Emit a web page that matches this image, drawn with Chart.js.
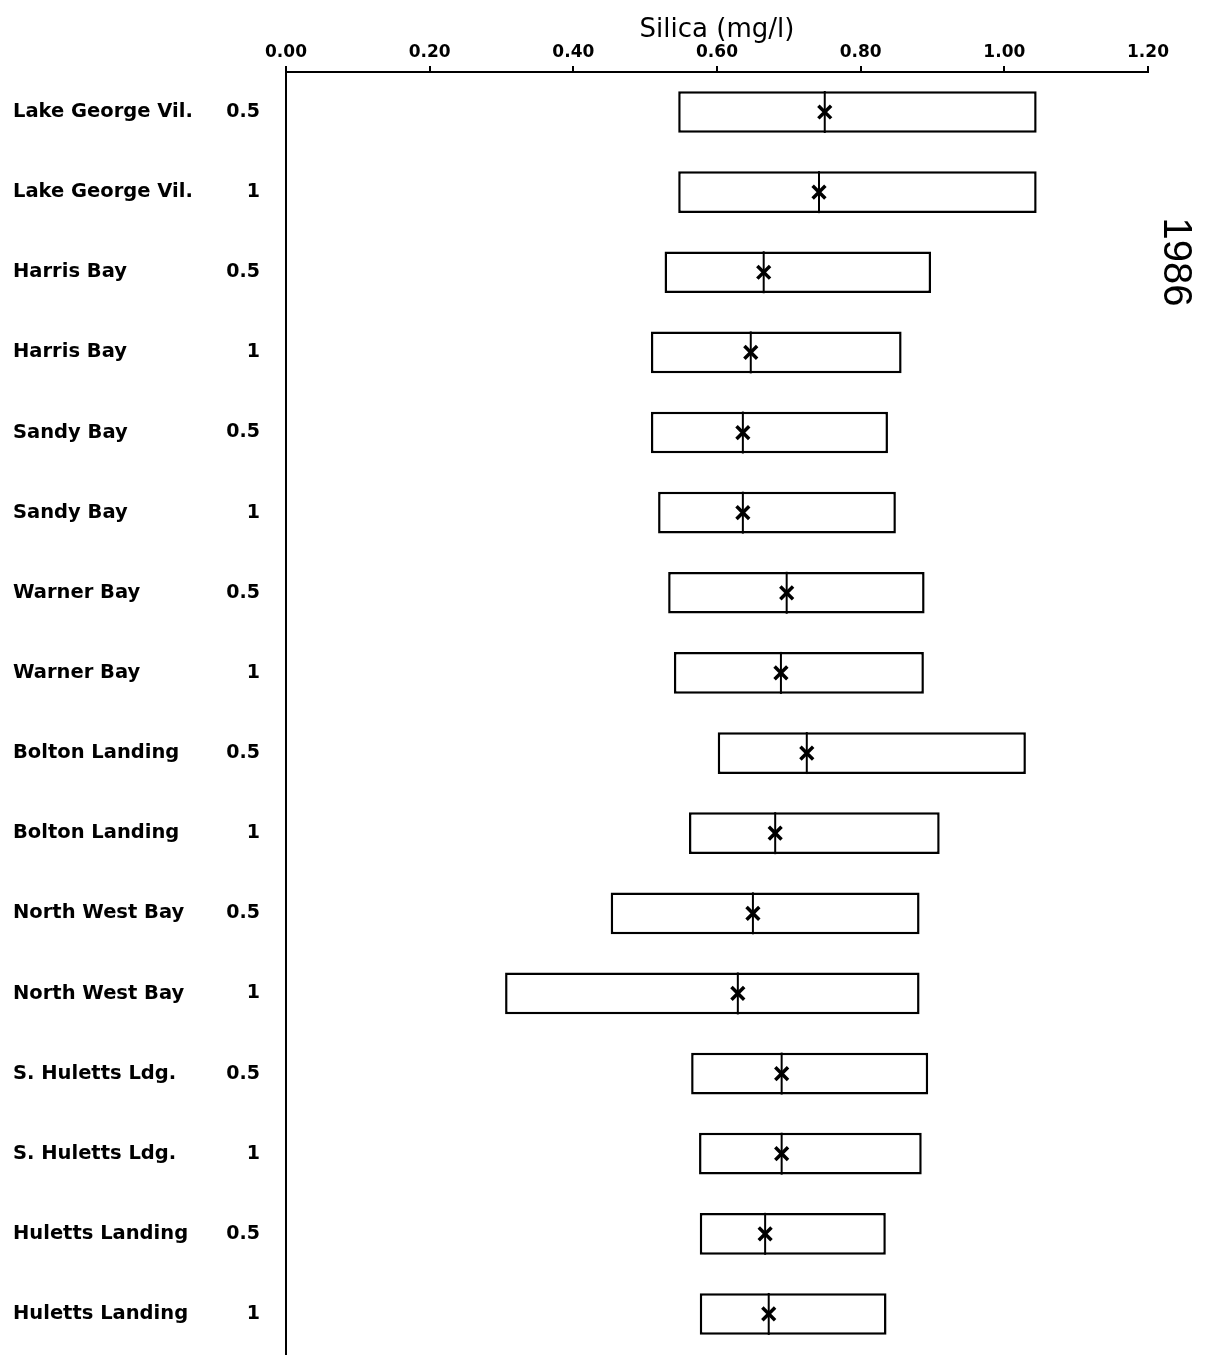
<!DOCTYPE html>
<html>
<head>
<meta charset="utf-8">
<script src="https://cdn.jsdelivr.net/npm/chart.js@4"></script>
<style>
  html, body { margin: 0; padding: 0; background: #fff; }
  #wrap { width: 1211px; height: 1355px; position: relative; }
</style>
</head>
<body>
<div id="wrap"><canvas id="chart-silica"></canvas></div>
<script>
const sites = [
  "Lake George Vil.", "Lake George Vil.",
  "Harris Bay", "Harris Bay",
  "Sandy Bay", "Sandy Bay",
  "Warner Bay", "Warner Bay",
  "Bolton Landing", "Bolton Landing",
  "North West Bay", "North West Bay",
  "S. Huletts Ldg.", "S. Huletts Ldg.",
  "Huletts Landing", "Huletts Landing",
];
const depths = ["0.5", "1", "0.5", "1", "0.5", "1", "0.5", "1",
                "0.5", "1", "0.5", "1", "0.5", "1", "0.5", "1"];

// box ends and median, mg/l
const lowValues = [0.546, 0.546, 0.527, 0.508, 0.508, 0.518, 0.532, 0.540,
                   0.601, 0.561, 0.452, 0.305, 0.564, 0.575, 0.576, 0.576];
const highValues = [1.045, 1.045, 0.898, 0.857, 0.838, 0.849, 0.889, 0.888,
                    1.030, 0.910, 0.882, 0.882, 0.894, 0.885, 0.835, 0.836];
const medianValues = [0.750, 0.742, 0.665, 0.647, 0.636, 0.636, 0.697, 0.689,
                      0.725, 0.681, 0.650, 0.629, 0.690, 0.690, 0.667, 0.672];

const xTickValues = [0, 0.2, 0.4, 0.6, 0.8, 1.0, 1.2];
const yearLabel = "1986";

const ink = "#000";
const labelFont = '"DejaVu Sans", sans-serif';

// rotated year on the right margin
const yearText = {
  id: "yearText",
  afterDraw(chart) {
    const ctx = chart.ctx;
    const area = chart.chartArea;
    ctx.save();
    ctx.translate(area.right + 27, area.top + 190);
    ctx.rotate(Math.PI / 2);
    ctx.fillStyle = ink;
    ctx.font = '40px "Liberation Sans", sans-serif';
    ctx.textAlign = "center";
    ctx.textBaseline = "middle";
    ctx.fillText(yearLabel, 0, 0);
    ctx.restore();
  },
};

new Chart(document.getElementById("chart-silica"), {
  type: "bar",
  data: {
    labels: sites,
    datasets: [
      {
        label: "Range",
        data: lowValues.map((lo, i) => [lo, highValues[i]]),
        backgroundColor: "#fff",
        borderColor: ink,
        borderWidth: 2.5,
        borderSkipped: false,
        barPercentage: 0.52,
        categoryPercentage: 1,
        order: 3,
      },
      {
        label: "Median line",
        type: "scatter",
        data: medianValues.map((m, i) => ({ x: m, y: i })),
        pointStyle: "line",
        pointRotation: 90,
        pointRadius: 21,
        pointHoverRadius: 21,
        borderColor: ink,
        borderWidth: 2,
        order: 2,
      },
      {
        label: "Median",
        type: "scatter",
        data: medianValues.map((m, i) => ({ x: m, y: i })),
        pointStyle: "crossRot",
        pointRadius: 9,
        pointHoverRadius: 9,
        borderColor: ink,
        borderWidth: 3.5,
        order: 1,
      },
    ],
  },
  options: {
    indexAxis: "y",
    responsive: true,
    maintainAspectRatio: false,
    animation: false,
    layout: {
      autoPadding: false,
      padding: { top: 21, left: 13, right: 63, bottom: 0 },
    },
    scales: {
      x: {
        type: "linear",
        position: "top",
        min: 0,
        max: 1.2,
        afterBuildTicks: (scale) => {
          scale.ticks = xTickValues.map((v) => ({ value: v }));
        },
        ticks: {
          color: ink,
          padding: 5,
          font: { family: labelFont, size: 17, weight: "bold", lineHeight: 1 },
          callback: (v) => Number(v).toFixed(2),
        },
        grid: {
          drawOnChartArea: false,
          drawTicks: true,
          tickLength: 6,
          color: ink,
          lineWidth: 2,
        },
        border: { display: true, color: ink, width: 2 },
        title: {
          display: true,
          text: "Silica (mg/l)",
          color: ink,
          font: { family: labelFont, size: 26, lineHeight: 0.69 },
          padding: { top: 0, bottom: 0 },
        },
      },
      y: {
        type: "category",
        position: "left",
        offset: true,
        weight: 1,
        afterFit: (scale) => {
          scale.width = 203;
        },
        ticks: {
          color: ink,
          crossAlign: "far",
          padding: 0,
          font: { family: labelFont, size: 19.5, weight: "bold", lineHeight: 0.1 },
        },
        grid: { display: false, drawTicks: false },
        border: { display: false },
      },
      y2: {
        type: "category",
        position: "left",
        labels: depths,
        offset: true,
        weight: 0,
        afterFit: (scale) => {
          scale.width = 70;
        },
        ticks: {
          color: ink,
          padding: 0,
          font: { family: labelFont, size: 19, weight: "bold", lineHeight: 0.1 },
        },
        grid: { display: false, drawTicks: true, tickLength: 26 },
        border: { display: true, color: ink, width: 2 },
      },
    },
    plugins: {
      legend: { display: false },
      tooltip: { enabled: false },
    },
  },
  plugins: [yearText],
});
</script>
</body>
</html>
